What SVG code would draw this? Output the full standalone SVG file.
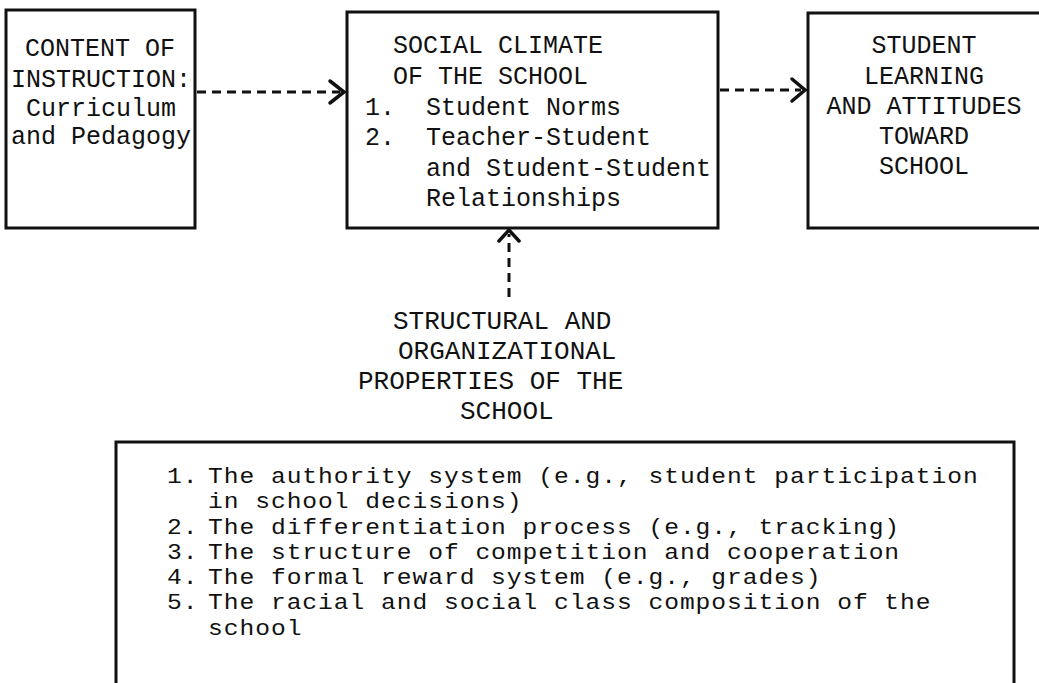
<svg xmlns="http://www.w3.org/2000/svg" width="1039" height="683" viewBox="0 0 1039 683">
  <defs>
    <style>
      .box { fill: none; stroke: #111; stroke-width: 3; }
      .edge { fill: none; stroke: #111; stroke-width: 3; stroke-dasharray: 9 6; }
      .head { fill: none; stroke: #111; stroke-width: 3.5; stroke-linecap: round; stroke-linejoin: miter; }
      .t { font-family: "Liberation Mono", "Courier New", monospace; font-size: 25px; fill: #111; }
      .t2 { font-family: "Liberation Mono", "Courier New", monospace; font-size: 26px; fill: #111; }
      .li { font-family: "Liberation Mono", "Courier New", monospace; font-size: 22px; letter-spacing: 0.85px; fill: #111; }
    </style>
  </defs>
  <rect width="1039" height="683" fill="#fff"/>

  <!-- Left node: content of instruction -->
  <g id="content">
    <rect class="box" x="6" y="10" width="189" height="218"/>
    <text class="t" x="25" y="56">CONTENT OF</text>
    <text class="t" x="11" y="87">INSTRUCTION:</text>
    <text class="t" x="26" y="116">Curriculum</text>
    <text class="t" x="11" y="144">and Pedagogy</text>
  </g>

  <!-- Middle node: social climate -->
  <g id="climate">
    <rect class="box" x="347" y="12" width="371" height="216"/>
    <text class="t" x="393" y="53">SOCIAL CLIMATE</text>
    <text class="t" x="393" y="84">OF THE SCHOOL</text>
    <text class="t" x="365" y="115">1.</text>
    <text class="t" x="426" y="115">Student Norms</text>
    <text class="t" x="365" y="145">2.</text>
    <text class="t" x="426" y="145">Teacher-Student</text>
    <text class="t" x="426" y="176">and Student-Student</text>
    <text class="t" x="426" y="206">Relationships</text>
  </g>

  <!-- Right node: outcomes (box runs past the right edge) -->
  <g id="outcomes">
    <path class="box" d="M1042,13 H808 V228 H1042"/>
    <text class="t" x="924" y="53" text-anchor="middle">STUDENT</text>
    <text class="t" x="924" y="84" text-anchor="middle">LEARNING</text>
    <text class="t" x="924" y="114" text-anchor="middle">AND ATTITUDES</text>
    <text class="t" x="924" y="144" text-anchor="middle">TOWARD</text>
    <text class="t" x="924" y="174" text-anchor="middle">SCHOOL</text>
  </g>

  <!-- Label: structural properties -->
  <g id="structural">
    <text class="t2" x="393" y="329">STRUCTURAL AND</text>
    <text class="t2" x="398" y="359">ORGANIZATIONAL</text>
    <text class="t2" x="358" y="389">PROPERTIES OF THE</text>
    <text class="t2" x="460" y="419">SCHOOL</text>
  </g>

  <!-- List node: open at the bottom; list text is widened to the typewriter pitch -->
  <g id="properties">
    <path class="box" d="M116,690 V442 H1014 V690"/>
    <g transform="scale(1.12,1)">
      <text class="li" x="149.1" y="483">1.</text>
      <text class="li" x="185.7" y="483">The authority system (e.g., student participation</text>
      <text class="li" x="185.7" y="508">in school decisions)</text>
      <text class="li" x="149.1" y="534">2.</text>
      <text class="li" x="185.7" y="534">The differentiation process (e.g., tracking)</text>
      <text class="li" x="149.1" y="559">3.</text>
      <text class="li" x="185.7" y="559">The structure of competition and cooperation</text>
      <text class="li" x="149.1" y="584">4.</text>
      <text class="li" x="185.7" y="584">The formal reward system (e.g., grades)</text>
      <text class="li" x="149.1" y="609">5.</text>
      <text class="li" x="185.7" y="609">The racial and social class composition of the</text>
      <text class="li" x="185.7" y="635">school</text>
    </g>
  </g>

  <!-- Dashed connectors with open arrowheads -->
  <g id="connectors">
    <line class="edge" x1="197" y1="92" x2="340" y2="92"/>
    <path class="head" d="M330,81 L344,92 L330,103"/>
    <line class="edge" x1="720" y1="90" x2="801" y2="90"/>
    <path class="head" d="M792,79 L805,90 L792,101"/>
    <line class="edge" x1="509" y1="297" x2="509" y2="234"/>
    <path class="head" d="M499,241 L509,230 L519,241"/>
  </g>
</svg>
